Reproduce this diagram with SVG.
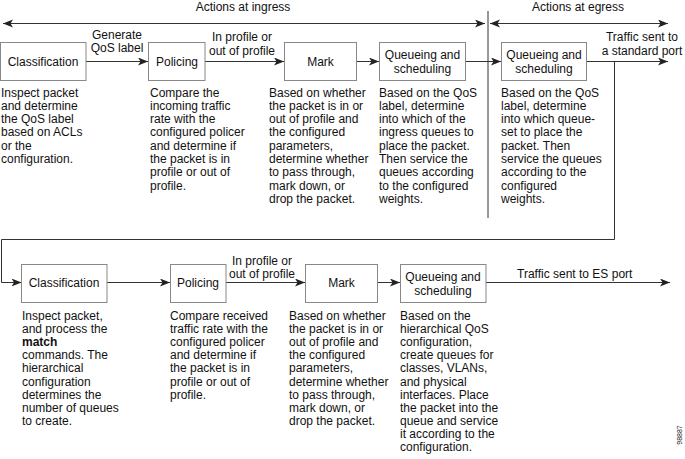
<svg xmlns="http://www.w3.org/2000/svg" width="685" height="459" viewBox="0 0 685 459">
<defs>
<marker id="ah" markerUnits="userSpaceOnUse" markerWidth="12" markerHeight="10" refX="10" refY="4" orient="auto-start-reverse">
<path d="M0,0 L10,4 L0,8 L2.5,4 z" fill="#222"/>
</marker>
</defs>
<style>
text{font-family:"Liberation Sans",Arial,sans-serif;font-size:12px;fill:#111}
.box{fill:#fff;stroke:#888;stroke-width:1}
.ln{fill:none;stroke:#333;stroke-width:1}
.arr{fill:none;stroke:#333;stroke-width:1;marker-end:url(#ah)}
.c{text-anchor:middle}
</style>
<rect width="685" height="459" fill="#fff"/>
<g id="connectors">
<line class="ln" x1="3" y1="23.5" x2="485" y2="23.5" marker-start="url(#ah)" marker-end="url(#ah)"/>
<line class="ln" x1="490" y1="23.5" x2="668" y2="23.5" marker-start="url(#ah)" marker-end="url(#ah)"/>
<line class="ln" x1="488" y1="11" x2="488" y2="218"/>
<line class="arr" x1="86" y1="61.5" x2="148" y2="61.5"/>
<line class="arr" x1="205" y1="61.5" x2="284" y2="61.5"/>
<line class="arr" x1="357" y1="61.5" x2="379" y2="61.5"/>
<line class="arr" x1="466" y1="61.5" x2="501" y2="61.5"/>
<line class="arr" x1="587" y1="61.5" x2="668" y2="61.5"/>
<path class="arr" d="M614.5,61.5 V239.5 H1.5 V282.5 H21.5"/>
<line class="arr" x1="107" y1="282.5" x2="170" y2="282.5"/>
<line class="arr" x1="226" y1="282.5" x2="305" y2="282.5"/>
<line class="arr" x1="377" y1="282.5" x2="400" y2="282.5"/>
<line class="arr" x1="486" y1="282.5" x2="670" y2="282.5"/>
</g>
<g id="labels">
<text class="c" x="243" y="11">Actions at ingress</text>
<text class="c" x="578" y="11">Actions at egress</text>
<text class="c" x="117" y="39">Generate</text>
<text class="c" x="117" y="52">QoS label</text>
<text class="c" x="242" y="41">In profile or</text>
<text class="c" x="242" y="55">out of profile</text>
<text class="c" x="642" y="41">Traffic sent to</text>
<text class="c" x="642" y="55">a standard port</text>
<text class="c" x="262" y="265">In profile or</text>
<text class="c" x="262" y="278">out of profile</text>
<text x="517" y="278">Traffic sent to ES port</text>
<text x="0" y="0" style="font-size:7px" transform="translate(682,435) rotate(-90)" text-anchor="middle">98887</text>
</g>
<g id="classification1">
<rect class="box" x="0.5" y="42.5" width="85.5" height="38"/>
<text class="c" x="43" y="66">Classification</text>
<text x="1" y="96.5"><tspan x="1">Inspect packet</tspan><tspan x="1" dy="13.3">and determine</tspan><tspan x="1" dy="13.3">the QoS label</tspan><tspan x="1" dy="13.3">based on ACLs</tspan><tspan x="1" dy="13.3">or the</tspan><tspan x="1" dy="13.3">configuration.</tspan></text>
</g>
<g id="policing1">
<rect class="box" x="148.5" y="42.5" width="56.5" height="38"/>
<text class="c" x="177" y="66">Policing</text>
<text x="150" y="96.5"><tspan x="150">Compare the</tspan><tspan x="150" dy="13.3">incoming traffic</tspan><tspan x="150" dy="13.3">rate with the</tspan><tspan x="150" dy="13.3">configured policer</tspan><tspan x="150" dy="13.3">and determine if</tspan><tspan x="150" dy="13.3">the packet is in</tspan><tspan x="150" dy="13.3">profile or out of</tspan><tspan x="150" dy="13.3">profile.</tspan></text>
</g>
<g id="mark1">
<rect class="box" x="284.5" y="42.5" width="72" height="38"/>
<text class="c" x="320.5" y="66">Mark</text>
<text x="269" y="96.5"><tspan x="269">Based on whether</tspan><tspan x="269" dy="13.3">the packet is in or</tspan><tspan x="269" dy="13.3">out of profile and</tspan><tspan x="269" dy="13.3">the configured</tspan><tspan x="269" dy="13.3">parameters,</tspan><tspan x="269" dy="13.3">determine whether</tspan><tspan x="269" dy="13.3">to pass through,</tspan><tspan x="269" dy="13.3">mark down, or</tspan><tspan x="269" dy="13.3">drop the packet.</tspan></text>
</g>
<g id="queueing1">
<rect class="box" x="379.5" y="42.5" width="86" height="38"/>
<text class="c" x="422.5" y="59">Queueing and</text>
<text class="c" x="422.5" y="73">scheduling</text>
<text x="379" y="96.5"><tspan x="379">Based on the QoS</tspan><tspan x="379" dy="13.3">label, determine</tspan><tspan x="379" dy="13.3">into which of the</tspan><tspan x="379" dy="13.3">ingress queues to</tspan><tspan x="379" dy="13.3">place the packet.</tspan><tspan x="379" dy="13.3">Then service the</tspan><tspan x="379" dy="13.3">queues according</tspan><tspan x="379" dy="13.3">to the configured</tspan><tspan x="379" dy="13.3">weights.</tspan></text>
</g>
<g id="queueing2">
<rect class="box" x="501.5" y="42.5" width="85" height="38"/>
<text class="c" x="544" y="59">Queueing and</text>
<text class="c" x="544" y="73">scheduling</text>
<text x="501" y="96.5"><tspan x="501">Based on the QoS</tspan><tspan x="501" dy="13.3">label, determine</tspan><tspan x="501" dy="13.3">into which queue-</tspan><tspan x="501" dy="13.3">set to place the</tspan><tspan x="501" dy="13.3">packet. Then</tspan><tspan x="501" dy="13.3">service the queues</tspan><tspan x="501" dy="13.3">according to the</tspan><tspan x="501" dy="13.3">configured</tspan><tspan x="501" dy="13.3">weights.</tspan></text>
</g>
<g id="classification2">
<rect class="box" x="21.5" y="264.5" width="85.5" height="38"/>
<text class="c" x="64" y="287">Classification</text>
<text x="22" y="320"><tspan x="22">Inspect packet,</tspan><tspan x="22" dy="13.1">and process the</tspan><tspan x="22" dy="13.1" font-weight="bold">match</tspan><tspan x="22" dy="13.1">commands. The</tspan><tspan x="22" dy="13.1">hierarchical</tspan><tspan x="22" dy="13.1">configuration</tspan><tspan x="22" dy="13.1">determines the</tspan><tspan x="22" dy="13.1">number of queues</tspan><tspan x="22" dy="13.1">to create.</tspan></text>
</g>
<g id="policing2">
<rect class="box" x="170.5" y="264.5" width="55.5" height="38"/>
<text class="c" x="198" y="287">Policing</text>
<text x="170" y="320"><tspan x="170">Compare received</tspan><tspan x="170" dy="13.1">traffic rate with the</tspan><tspan x="170" dy="13.1">configured policer</tspan><tspan x="170" dy="13.1">and determine if</tspan><tspan x="170" dy="13.1">the packet is in</tspan><tspan x="170" dy="13.1">profile or out of</tspan><tspan x="170" dy="13.1">profile.</tspan></text>
</g>
<g id="mark2">
<rect class="box" x="305.5" y="264.5" width="72" height="38"/>
<text class="c" x="341.5" y="287">Mark</text>
<text x="289" y="320"><tspan x="289">Based on whether</tspan><tspan x="289" dy="13.1">the packet is in or</tspan><tspan x="289" dy="13.1">out of profile and</tspan><tspan x="289" dy="13.1">the configured</tspan><tspan x="289" dy="13.1">parameters,</tspan><tspan x="289" dy="13.1">determine whether</tspan><tspan x="289" dy="13.1">to pass through,</tspan><tspan x="289" dy="13.1">mark down, or</tspan><tspan x="289" dy="13.1">drop the packet.</tspan></text>
</g>
<g id="queueing3">
<rect class="box" x="400.5" y="264.5" width="85.5" height="38"/>
<text class="c" x="443" y="281">Queueing and</text>
<text class="c" x="443" y="295">scheduling</text>
<text x="400" y="320"><tspan x="400">Based on the</tspan><tspan x="400" dy="13.1">hierarchical QoS</tspan><tspan x="400" dy="13.1">configuration,</tspan><tspan x="400" dy="13.1">create queues for</tspan><tspan x="400" dy="13.1">classes, VLANs,</tspan><tspan x="400" dy="13.1">and physical</tspan><tspan x="400" dy="13.1">interfaces. Place</tspan><tspan x="400" dy="13.1">the packet into the</tspan><tspan x="400" dy="13.1">queue and service</tspan><tspan x="400" dy="13.1">it according to the</tspan><tspan x="400" dy="13.1">configuration.</tspan></text>
</g>
</svg>
